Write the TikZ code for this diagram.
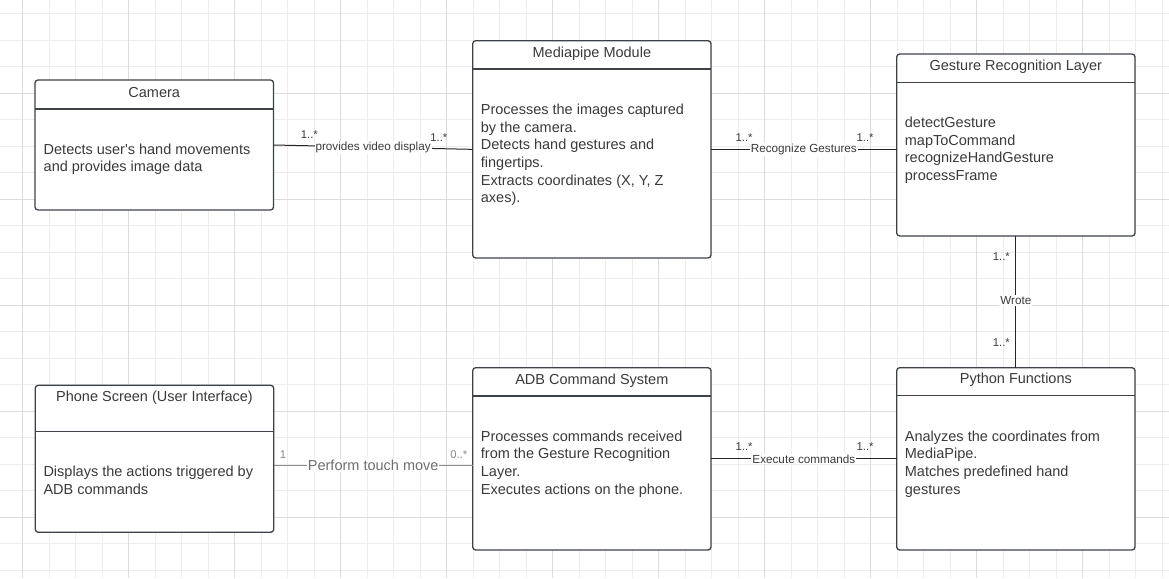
\documentclass[tikz,border=0pt]{standalone}
\usepackage{fontspec}
\setmainfont{Liberation Sans}
\usetikzlibrary{calc}
\definecolor{gridminor}{HTML}{EDEDED}
\definecolor{gridmajor}{HTML}{DCDCDC}
\definecolor{boxline}{HTML}{3D4148}
\definecolor{inktext}{HTML}{3A3A3A}
\definecolor{softline}{HTML}{8C8C8C}
\definecolor{softtext}{HTML}{6E6E6E}
\tikzset{
  umlbox/.style={draw=boxline, line width=1.3pt, rounded corners=3pt, fill=white, anchor=north west, inner sep=0pt, outer sep=0pt},
  divider/.style={draw=boxline, line width=1.3pt},
  boxtitle/.style={text=inktext, font=\fontsize{14.5}{17.7}\selectfont, inner sep=0pt},
  boxbody/.style={text=inktext, font=\fontsize{14.5}{17.7}\selectfont, align=left, anchor=base west, inner sep=0pt},
  assoc/.style={draw=black!85, line width=1pt},
  assoclabel/.style={fill=white, text=inktext, font=\fontsize{11.7}{13}\selectfont, inner sep=1pt},
  mult/.style={text=inktext, font=\fontsize{11.3}{13}\selectfont, inner sep=0pt},
}
\begin{document}
\begin{tikzpicture}[x=1pt,y=-1pt]
\useasboundingbox (0,0) rectangle (1169,578);
\fill[white] (0,0) rectangle (1169,578);
% grid
\foreach \k in {0,...,43} \draw[gridminor, line width=1pt] ({22.7+26.5*\k},0) -- ({22.7+26.5*\k},578);
\foreach \k in {0,...,21} \draw[gridminor, line width=1pt] (0,{13.8+26.5*\k}) -- (1169,{13.8+26.5*\k});
\foreach \k in {0,...,10} \draw[gridmajor, line width=1pt] ({22.7+106*\k},0) -- ({22.7+106*\k},578);
\foreach \k in {0,...,4} \draw[gridmajor, line width=1pt] (0,{93.3+106*\k}) -- (1169,{93.3+106*\k});

% Camera (body node sits on the baseline of its last line)
\node[umlbox, minimum width=238.5pt, minimum height=130pt] (cam) at (35,80) {};
\draw[divider] ([yshift=-29pt]cam.north west) -- ([yshift=-29pt]cam.north east);
\node[boxtitle] (camT) at ([yshift=-13pt]cam.north) {Camera};
\node[boxbody] (camB) at ([xshift=8.5pt,yshift=-91.7pt]cam.north west) {Detects user\textquotesingle s hand movements\\and provides image data};

% Mediapipe Module
\node[umlbox, minimum width=238.3pt, minimum height=217.3pt] (mp) at (472.7,40.7) {};
\draw[divider] ([yshift=-28.3pt]mp.north west) -- ([yshift=-28.3pt]mp.north east);
\node[boxtitle] (mpT) at ([yshift=-12.6pt]mp.north) {Mediapipe Module};
\node[boxbody] (mpB) at ([xshift=8pt,yshift=-162.1pt]mp.north west) {Processes the images captured\\by the camera.\\Detects hand gestures and\\fingertips.\\Extracts coordinates (X, Y, Z\\axes).};

% Gesture Recognition Layer
\node[umlbox, minimum width=238.3pt, minimum height=182pt] (gr) at (896.7,54) {};
\draw[divider] ([yshift=-28.3pt]gr.north west) -- ([yshift=-28.3pt]gr.north east);
\node[boxtitle] (grT) at ([yshift=-12.7pt]gr.north) {Gesture Recognition Layer};
\node[boxbody] (grB) at ([xshift=8pt,yshift=-126.4pt]gr.north west) {detectGesture\\mapToCommand\\recognizeHandGesture\\processFrame};

% Python Functions
\node[umlbox, minimum width=238.3pt, minimum height=182.3pt] (py) at (896.7,367.7) {};
\draw[divider] ([yshift=-28pt]py.north west) -- ([yshift=-28pt]py.north east);
\node[boxtitle] (pyT) at ([yshift=-12.3pt]py.north) {Python Functions};
\node[boxbody] (pyB) at ([xshift=8pt,yshift=-126.4pt]py.north west) {Analyzes the coordinates from\\MediaPipe.\\Matches predefined hand\\gestures};

% ADB Command System
\node[umlbox, minimum width=238.3pt, minimum height=182.3pt] (adb) at (472.7,367.7) {};
\draw[divider] ([yshift=-28.3pt]adb.north west) -- ([yshift=-28.3pt]adb.north east);
\node[boxtitle] (adbT) at ([yshift=-13pt]adb.north) {ADB Command System};
\node[boxbody] (adbB) at ([xshift=8pt,yshift=-126.4pt]adb.north west) {Processes commands received\\from the Gesture Recognition\\Layer.\\Executes actions on the phone.};

% Phone Screen
\node[umlbox, minimum width=238.4pt, minimum height=147pt] (ph) at (35.3,385.3) {};
\draw[divider] ([yshift=-46pt]ph.north west) -- ([yshift=-46pt]ph.north east);
\node[boxtitle] (phT) at ([yshift=-12.4pt]ph.north) {Phone Screen (User Interface)};
\node[boxbody] (phB) at ([xshift=8pt,yshift=-108.7pt]ph.north west) {Displays the actions triggered by\\ADB commands};

% associations
\draw[assoc] (cam.east) -- (mp.west)
  node[assoclabel, pos=0.5] (camMpL) {provides video display}
  node[mult, pos=0.18, yshift=11pt] (camMpA) {1..*}
  node[mult, pos=0.83, yshift=10.5pt] (camMpB) {1..*};
\draw[assoc] (mp.east) -- (mp.east -| gr.west)
  node[assoclabel, pos=0.5] (mpGrL) {Recognize Gestures}
  node[mult, pos=0.178, yshift=11.3pt] (mpGrA) {1..*}
  node[mult, pos=0.83, yshift=11.3pt] (mpGrB) {1..*};
\draw[assoc] (gr.south) -- (py.north)
  node[assoclabel, pos=0.49] (grPyL) {Wrote}
  node[mult, pos=0.157, xshift=-14.5pt] (grPyA) {1..*}
  node[mult, pos=0.81, xshift=-14.5pt] (grPyB) {1..*};
\draw[assoc] (adb.east) -- (py.west)
  node[assoclabel, pos=0.5] (adbPyL) {Execute commands}
  node[mult, pos=0.178, yshift=12pt] (adbPyA) {1..*}
  node[mult, pos=0.83, yshift=12pt] (adbPyB) {1..*};
\coordinate (phOut) at ($(ph.east)+(0,6.5)$);
\draw[assoc, draw=softline] (phOut) -- (phOut -| adb.west)
  node[assoclabel, text=softtext, font=\fontsize{14.5}{17}\selectfont, pos=0.5] (phAdbL) {Perform touch move}
  node[mult, text=softtext!80, pos=0.047, yshift=11pt] (phAdbA) {1}
  node[mult, text=softtext!80, pos=0.93, yshift=11pt] (phAdbB) {0..*};
\end{tikzpicture}
\end{document}
